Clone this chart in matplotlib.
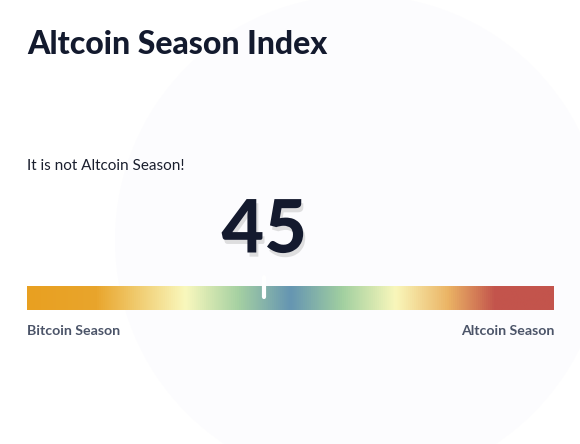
import matplotlib.pyplot as plt
import matplotlib.patheffects as pe
import numpy as np
from matplotlib.colors import LinearSegmentedColormap
from matplotlib.patches import Circle

title = "Altcoin Season Index"
status = "It is not Altcoin Season!"
index_value = 45
scale_min, scale_max = 0, 100
left_label = "Bitcoin Season"
right_label = "Altcoin Season"

stop_pos = [0.0, 0.13, 0.30, 0.40, 0.50, 0.60, 0.70, 0.80, 0.89, 1.0]
stop_col = ["#e8a021", "#e9a52c", "#f9f8bd", "#a6d1a2", "#6595b2",
            "#a2d0a0", "#f9f7bb", "#ebb465", "#c3544c", "#c3544c"]

fig = plt.figure(figsize=(5.8, 4.44), dpi=100)
ax = fig.add_axes([0, 0, 1, 1])
ax.set_xlim(0, 580)
ax.set_ylim(444, 0)
ax.axis("off")

# faint background circle
ax.add_patch(Circle((360, 240), 245, color="#fcfcfe", zorder=0, lw=0))

ax.text(27, 44, title, fontsize=23, fontweight="black", family="Lato",
        color="#131a2e", va="center", ha="left")
ax.text(27, 166, status, fontsize=11, family="Lato", color="#1a1f2e",
        va="center", ha="left")

bx0, bx1, by0, by1 = 27, 554, 286, 310
cmap = LinearSegmentedColormap.from_list("season", list(zip(stop_pos, stop_col)))
grad = np.linspace(0, 1, 512).reshape(1, -1)
ax.imshow(grad, cmap=cmap, aspect="auto", extent=[bx0, bx1, by1, by0], zorder=2)

frac = (index_value - scale_min) / (scale_max - scale_min)
mx = bx0 + frac * (bx1 - bx0)
ax.plot([mx, mx], [277, 297], color="white", lw=3, solid_capstyle="round", zorder=3)

ax.text(mx, 231, str(index_value), fontsize=53, fontweight="black", family="Lato",
        color="#141a2e", ha="center", va="center", zorder=4,
        path_effects=[pe.withSimplePatchShadow(offset=(1.5, -3), shadow_rgbFace="#9a9a9a", alpha=0.3)])

ax.text(bx0, 331, left_label, fontsize=10.2, fontweight="bold", family="Lato",
        color="#4b5468", ha="left", va="center")
ax.text(bx1, 331, right_label, fontsize=10.2, fontweight="bold", family="Lato",
        color="#4b5468", ha="right", va="center")

fig.savefig("out.png", dpi=100)
